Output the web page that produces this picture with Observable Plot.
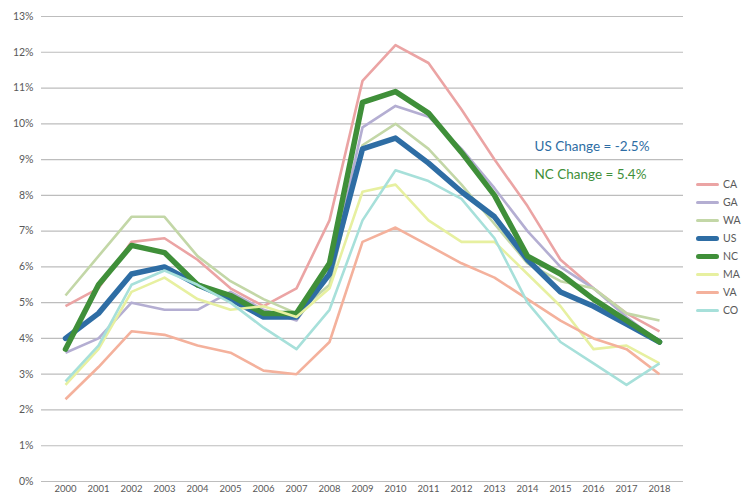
<!DOCTYPE html>
<html><head><meta charset="utf-8">
<script src="https://cdn.jsdelivr.net/npm/d3@7"></script>
<script src="https://cdn.jsdelivr.net/npm/@observablehq/plot@0.6"></script>
<style>
body{margin:0;background:#fff;font-family:Lato,sans-serif;}
#wrap{position:relative;width:743px;height:493px;}
#wrap svg{position:absolute;left:0;top:0;}
#legend{position:absolute;left:696px;top:175px;z-index:2;}
.row{display:flex;align-items:center;height:18px;}
.sw{width:23px;border-radius:3px;margin-right:4px;}
.lab{font-size:10.5px;color:#595959;}
</style></head><body><div id="wrap"><div id="legend"></div></div>
<script>
const years = ["2000","2001","2002","2003","2004","2005","2006","2007","2008","2009","2010","2011","2012","2013","2014","2015","2016","2017","2018"];
const states = ["CA","GA","WA","US","NC","MA","VA","CO"];
const CA = [4.9,5.4,6.7,6.8,6.2,5.4,4.9,5.4,7.3,11.2,12.2,11.7,10.4,9.0,7.7,6.2,5.4,4.7,4.2];
const GA = [3.6,4.0,5.0,4.8,4.8,5.3,4.8,4.5,5.8,9.9,10.5,10.2,9.3,8.2,7.0,6.0,5.4,4.6,3.9];
const WA = [5.2,6.3,7.4,7.4,6.3,5.6,5.1,4.7,5.5,9.4,10.0,9.3,8.3,7.2,6.1,5.6,5.4,4.7,4.5];
const US = [4.0,4.7,5.8,6.0,5.5,5.1,4.6,4.6,5.8,9.3,9.6,8.9,8.1,7.4,6.2,5.3,4.9,4.4,3.9];
const NC = [3.7,5.5,6.6,6.4,5.5,5.2,4.7,4.7,6.1,10.6,10.9,10.3,9.2,8.0,6.3,5.8,5.1,4.5,3.9];
const MA = [2.7,3.7,5.3,5.7,5.1,4.8,4.9,4.6,5.4,8.1,8.3,7.3,6.7,6.7,5.8,4.9,3.7,3.8,3.3];
const VA = [2.3,3.2,4.2,4.1,3.8,3.6,3.1,3.0,3.9,6.7,7.1,6.6,6.1,5.7,5.1,4.5,4.0,3.7,3.0];
const CO = [2.8,3.8,5.5,5.9,5.5,5.0,4.3,3.7,4.8,7.3,8.7,8.4,7.9,6.8,5.0,3.9,3.3,2.7,3.3];
const yTicks = [0,0.01,0.02,0.03,0.04,0.05,0.06,0.07,0.08,0.09,0.10,0.11,0.12,0.13];
const notes = ["US Change = -2.5%","NC Change = 5.4%"];

const values = {CA,GA,WA,US,NC,MA,VA,CO};
const colors = {CA:"#eba4a4",GA:"#b4aed2",WA:"#c3d7a7",US:"#2e6da4",NC:"#3f8f39",MA:"#e7f0a0",VA:"#f4b19c",CO:"#a7e0da"};
const widths = {CA:2.6,GA:2.6,WA:2.6,US:5.5,NC:5.5,MA:2.6,VA:2.6,CO:2.6};
const data = states.flatMap(s => years.map((y,i) => ({state:s, year:y, value:values[s][i]/100})));

const lineMarks = states.map(s => Plot.line(data.filter(d => d.state===s), {
  x:"year", y:"value", stroke: colors[s], strokeWidth: widths[s], strokeLinejoin:"round", strokeLinecap: widths[s]>3 ? "round" : "butt"
}));

const chart = Plot.plot({
  width:743, height:493,
  marginLeft:41, marginRight:60, marginTop:16, marginBottom:12,
  style:{fontFamily:"Lato, sans-serif", color:"#595959", background:"#fff"},
  x:{type:"point", domain:years, padding:0.5, label:null},
  y:{domain:[0,0.13], label:null},
  marks:[
    Plot.ruleY(yTicks, {stroke:"#bdbdbd", strokeWidth:1.2}),
    Plot.axisY(yTicks, {tickFormat:d3.format(".0%"), tickSize:0, tickPadding:8, fontSize:10.5, label:null}),
    Plot.axisX(years, {tickSize:0, tickPadding:4, fontSize:9.5, label:null}),
    ...lineMarks,
    Plot.text([{t:notes[0], y:0.0937, c:"#2e6da4"},{t:notes[1], y:0.0859, c:"#3f8f39"}], {
      x:() => "2014", y:"y", text:"t", fill:"c", textAnchor:"start", dx:7, fontSize:13.5
    })
  ]
});
document.getElementById("wrap").appendChild(chart);

const legend = document.getElementById("legend");
for (const s of states) {
  const row = document.createElement("div"); row.className="row";
  const sw = document.createElement("div"); sw.className="sw";
  sw.style.height = (widths[s]>3 ? 5 : 3) + "px"; sw.style.background = colors[s];
  const lab = document.createElement("span"); lab.className="lab"; lab.textContent = s;
  row.appendChild(sw); row.appendChild(lab); legend.appendChild(row);
}
</script></body></html>
